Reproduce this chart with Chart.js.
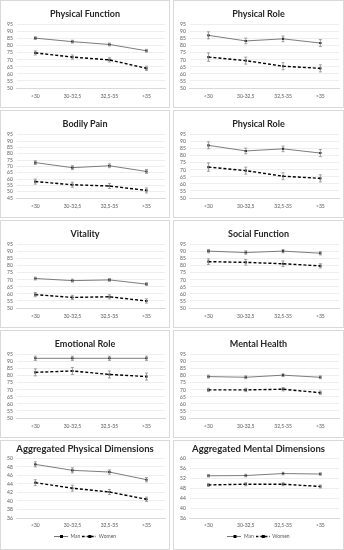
<!DOCTYPE html>
<html><head><meta charset="utf-8">
<script src="https://cdn.jsdelivr.net/npm/chart.js@4.4.1/dist/chart.umd.min.js"></script>
<style>
html,body{margin:0;padding:0;background:#fff;width:344px;height:550px;overflow:hidden;}
.p{position:absolute;box-sizing:border-box;border:1px solid #d9d9d9;background:#fff;}
canvas{display:block;}
</style></head><body>
<script>
const categories = ["<30", "30-32,5", "32,5-35", ">35"];
const titles = ["Physical Function","Physical Role","Bodily Pain","Physical Role","Vitality","Social Function","Emotional Role","Mental Health","Aggregated Physical Dimensions","Aggregated Mental Dimensions"];
const manValues = [
  [85.5, 83, 81, 76.5],
  [87.5, 83.5, 85, 82],
  [73, 69, 70.5, 66],
  [87.5, 83.5, 85, 82],
  [71, 69.5, 70, 67],
  [90.5, 89.5, 90.5, 89],
  [92.5, 92.5, 92.5, 92.5],
  [79.5, 79, 80.5, 79],
  [48.6, 47.2, 46.8, 45.0],
  [53.0, 53.1, 53.9, 53.7]
];
const womenValues = [
  [75, 72, 70, 64],
  [72, 69.5, 65.5, 64],
  [58, 55.5, 54.5, 51],
  [72, 69.5, 65.5, 64],
  [59.5, 57.5, 58, 55],
  [83, 82.5, 81.5, 80],
  [82.5, 83.5, 81, 79.5],
  [70, 70, 70.5, 68],
  [44.3, 43.0, 42.1, 40.4],
  [49.3, 49.6, 49.6, 48.7]
];
const manErrors = [
  [1, 1, 1, 1],
  [2.5, 2, 2, 2.5],
  [1.5, 1.5, 1.5, 1.5],
  [2.5, 2, 2, 2.5],
  [1, 1, 1, 1],
  [1.2, 1.2, 1.2, 1.2],
  [1.5, 1.5, 1.5, 1.5],
  [1, 1, 1, 1],
  [0.6, 0.6, 0.5, 0.5],
  [0.5, 0.5, 0.5, 0.5]
];
const womenErrors = [
  [1.5, 1.5, 1.5, 1.5],
  [3, 2.5, 2.5, 2.5],
  [2, 2, 2, 2],
  [3, 2.5, 2.5, 2.5],
  [1.5, 1.5, 1.5, 1.5],
  [2, 2, 2, 1.5],
  [2.5, 2.5, 2.5, 2.5],
  [1.2, 1.2, 1.2, 1.2],
  [0.7, 0.7, 0.6, 0.5],
  [0.6, 0.6, 0.6, 0.6]
];
const yMins = [50, 50, 45, 50, 50, 50, 50, 50, 36, 36];
const yMaxs = [95, 95, 95, 95, 95, 95, 95, 95, 50, 60];
const ySteps = [5, 5, 5, 5, 5, 5, 5, 5, 2, 4];
const seriesNames = ["Man", "Women"];

const errorBars = {
  id: 'errorBars',
  afterDatasetsDraw(chart) {
    const ctx = chart.ctx, ys = chart.scales.y;
    chart.data.datasets.forEach((ds, di) => {
      const meta = chart.getDatasetMeta(di);
      ctx.save();
      ctx.strokeStyle = '#8c8c8c';
      ctx.lineWidth = 0.8;
      ctx.setLineDash([]);
      meta.data.forEach((pt, i) => {
        const v = ds.data[i], e = ds.errors[i];
        const y1 = ys.getPixelForValue(v + e), y2 = ys.getPixelForValue(v - e);
        const x = pt.x;
        ctx.beginPath();
        ctx.moveTo(x, y1); ctx.lineTo(x, y2);
        ctx.moveTo(x - 1.5, y1); ctx.lineTo(x + 1.5, y1);
        ctx.moveTo(x - 1.5, y2); ctx.lineTo(x + 1.5, y2);
        ctx.stroke();
      });
      ctx.restore();
    });
  }
};

function legendImg(dashed) {
  const c = document.createElement('canvas');
  c.width = 14; c.height = 5;
  const g = c.getContext('2d');
  g.strokeStyle = dashed ? '#000' : '#555';
  g.lineWidth = dashed ? 1.3 : 0.8;
  if (dashed) g.setLineDash([2.5, 2]);
  g.beginPath(); g.moveTo(0, 2.5); g.lineTo(14, 2.5); g.stroke();
  g.fillStyle = '#000';
  g.fillRect(6, 1, 3, 3);
  return c;
}

for (let k = 0; k < 10; k++) {
  const col = k % 2, row = Math.floor(k / 2);
  const last = row === 4;
  const div = document.createElement('div');
  div.className = 'p';
  const w = col === 0 ? 170 : 171;
  const h = last ? 110 : 108;
  div.style.left = (col === 0 ? 0 : 173) + 'px';
  div.style.top = (row * 110) + 'px';
  div.style.width = w + 'px';
  div.style.height = h + 'px';
  const cv = document.createElement('canvas');
  cv.width = w - 2; cv.height = h - 2;
  div.appendChild(cv);
  document.body.appendChild(div);
  new Chart(cv, {
    type: 'line',
    data: {
      labels: categories,
      datasets: [
        { label: seriesNames[0], data: manValues[k], errors: manErrors[k], borderColor: '#6e6e6e', borderWidth: 0.9,
          pointStyle: 'rect', pointRadius: 1.5, pointBackgroundColor: '#000', pointBorderColor: '#000', pointBorderWidth: 0 },
        { label: seriesNames[1], data: womenValues[k], errors: womenErrors[k], borderColor: '#000', borderWidth: 1.4, borderDash: [3, 2],
          pointStyle: 'rect', pointRadius: 1.5, pointBackgroundColor: '#000', pointBorderColor: '#000', pointBorderWidth: 0 }
      ]
    },
    options: {
      responsive: false, animation: false, devicePixelRatio: 1,
      layout: { padding: { left: 2, right: 2, top: 0, bottom: last ? 0 : 3 } },
      plugins: {
        title: { display: true, text: titles[k], color: '#262626', font: { family: 'Lato', size: last ? 9.5 : 9, weight: 'bold' }, padding: { top: last ? 2 : 8, bottom: last ? 4 : 5 } },
        legend: {
          display: last, position: 'bottom',
          labels: {
            font: { family: 'Lato', size: 5 }, color: '#595959', usePointStyle: true, pointStyleWidth: 14, boxHeight: 5, padding: 2,
            generateLabels: (ch) => ch.data.datasets.map((d, i) => ({ text: d.label, pointStyle: legendImg(i === 1), fontColor: '#595959', datasetIndex: i, lineWidth: 0, hidden: false }))
          }
        },
        tooltip: { enabled: false }
      },
      scales: {
        x: {
          offset: true,
          grid: { display: false, drawTicks: false },
          border: { color: '#d9d9d9' },
          ticks: { font: { family: 'Lato', size: 5 }, color: '#595959', padding: last ? 4 : 5, maxRotation: 0, autoSkip: false }
        },
        y: {
          min: yMins[k], max: yMaxs[k],
          grid: { color: '#e6e6e6', lineWidth: 0.7, drawTicks: false },
          border: { display: false },
          ticks: { stepSize: ySteps[k], autoSkip: false, font: { family: 'Lato', size: 5 }, color: '#595959', padding: 4 }
        }
      }
    },
    plugins: [errorBars]
  });
}
</script>
</body></html>
